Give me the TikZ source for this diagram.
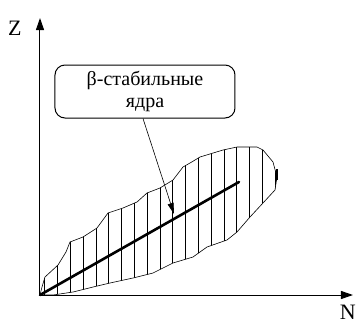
\documentclass[tikz,border=0pt]{standalone}
\usepackage{fontspec}
\setmainfont{Liberation Serif}
\usetikzlibrary{arrows.meta}
\begin{document}
\begin{tikzpicture}[x=1pt,y=-1pt,
  axis/.style={line width=1pt,-{Triangle[length=12pt,width=8pt]}},
  lbl/.style={font=\fontsize{22}{24}\selectfont,inner sep=0pt},
  callout/.style={draw,line width=1pt,rounded corners=10pt,minimum width=180pt,minimum height=53pt,align=center,font=\fontsize{20}{22}\selectfont,inner sep=2pt},
  pointer/.style={line width=0.6pt,-{Triangle[length=11pt,width=6pt]}},
  blobline/.style={line width=0.6pt},
  hatch/.style={line width=1pt},
  trend/.style={line width=2.6pt,line cap=round}]
\useasboundingbox (0,0) rectangle (360,325);
\coordinate (O) at (40,295);
\coordinate (Ztip) at (40,18);
\coordinate (Ntip) at (353,295);
\node[lbl,anchor=base west] (Z) at (8,35) {Z};
\node[lbl,anchor=base east] (N) at (356,319) {N};
\def\blobpath{(40,295) -- (42,287) -- (45,277) -- (58,265) -- (66,252) -- (70,242) -- (83,237) -- (97,228) -- (108,213) -- (123,208) -- (137,202) -- (147,193) -- (160,188) -- (173,180) -- (183,167) -- (190,163) -- (200,157) -- (223,150) -- (237,147) -- (257,147) -- (263,150) -- (273,162) -- (277,177) -- (275,190) -- (263,203) -- (250,217) -- (237,232) -- (227,240) -- (207,247) -- (193,257) -- (173,263) -- (153,273) -- (133,278) -- (110,283) -- (93,287) -- (73,292) -- (53,295) -- cycle}
\begin{scope}
\clip \blobpath;
\foreach \k in {0,...,18} {
  \draw[hatch] ({45+12.8*\k},140) -- ({45+12.8*\k},300);
}
\end{scope}
\draw[blobline] \blobpath;
\draw[line width=2pt] (277,169) -- (277,180);
\coordinate (Tend) at (239,182);
\draw[trend] (O) -- (Tend);
\draw[axis] (O) -- (Ztip);
\draw[axis] (O) -- (Ntip);
\node[callout] (box) at (145,91.5) {β-стабильные\\ядра};
\coordinate (P) at (174,214);
\draw[pointer] (box.south) ++(-2,0) coordinate (B) (B) -- (P);
\end{tikzpicture}
\end{document}
